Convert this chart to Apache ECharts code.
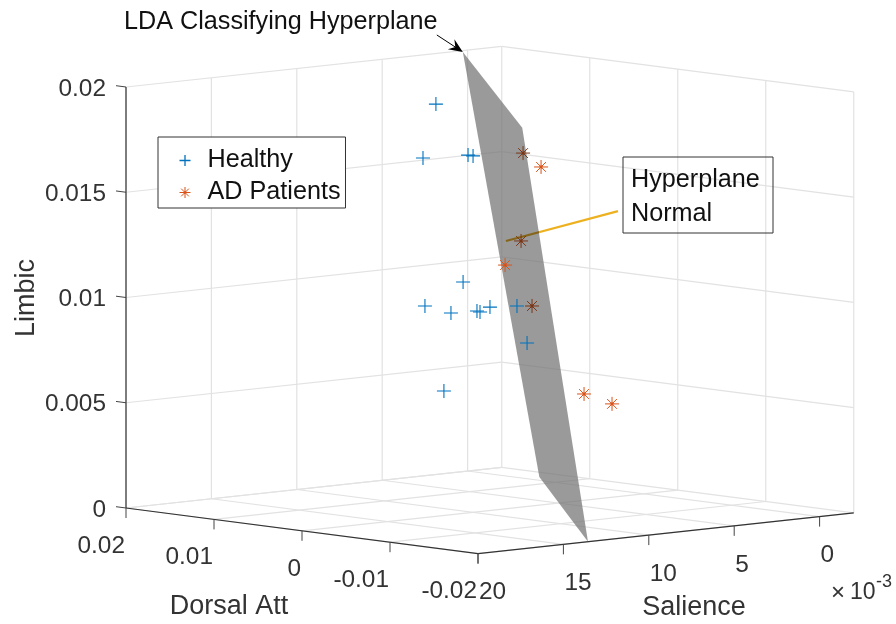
<!DOCTYPE html>
<html>
<head>
<meta charset="utf-8">
<style>html,body{margin:0;padding:0;background:#fff}#c{width:896px;height:624px}</style>
<script src="https://cdn.jsdelivr.net/npm/echarts@6/dist/echarts.min.js"></script>
</head>
<body>
<div id="c"></div>
<script>
// Data values: salience in units of 1e-3
var healthySalience = [14.22,10.34,14.40,9.47,11.60,8.68,14.37,8.21,14.73,9.51,9.99,11.46,9.63];
var healthyDorsal   = [-0.004,0.005,-0.008,0.001,-0.002,0.008,-0.006,0.003,-0.010,-0.001,-0.005,-0.009,0.004];
var healthyLimbic   = [0.01998,0.01659,0.01779,0.01683,0.01119,0.00925,0.01018,0.00924,0.01047,0.00976,0.01007,0.00866,0.00551];

// AD patients seen through the hyperplane
var adBehindSalience = [13.24,8.72,12.20];
var adBehindDorsal   = [-0.012,-0.003,-0.011];
var adBehindLimbic   = [0.01800,0.01294,0.01059];

// AD patients seen directly
var adFrontSalience = [9.61,7.08,10.70,4.94];
var adFrontDorsal   = [-0.007,0.002,-0.014,-0.006];
var adFrontLimbic   = [0.01675,0.01138,0.00644,0.00503];

var planeSalience = [0.64,17.41,13.56,-0.80];
var planeDorsal   = [0.0193,-0.02,-0.02,0.0134];
var planeLimbic   = [0.02,0.02,0,0];

var normalSalience = [8.06,4.59];
var normalDorsal   = [0,-0.006];
var normalLimbic   = [0.01272,0.01416];

var salienceTicks = [20,15,10,5,0];
var dorsalTicks   = [0.02,0.01,0,-0.01,-0.02];
var limbicTicks   = [0,0.005,0.01,0.015,0.02];
var salienceLabels = ['20','15','10','5','0'];
var dorsalLabels   = ['0.02','0.01','0','-0.01','-0.02'];
var limbicLabels   = ['0','0.005','0.01','0.015','0.02'];
var SAL_MIN = -2, SAL_MAX = 20, DOR_MAX = 0.02, DOR_MIN = -0.02;

// Orthographic view of the 3-D box, expressed in the hidden 2-D axes
var view = {ox:126, oy:508, sx:17.08, sy:-1.85, dx:88, dy:11.4, z:21050};
function project(s,d,z){
  var a = SAL_MAX - s, b = (DOR_MAX - d)/0.01;
  return [view.ox + a*view.sx + b*view.dx, view.oy + a*view.sy + b*view.dy - z*view.z];
}
function pts(S,D,Z){ return S.map(function(s,i){ return project(s,D[i],Z[i]); }); }

var grid = [], axes = [], ticks = [];
function seg(list,a,b,ox,oy){ list.push([a[0],a[1],b[0]+(ox||0),b[1]+(oy||0)]); }
salienceTicks.forEach(function(s){
  seg(grid,project(s,DOR_MAX,0),project(s,DOR_MIN,0));
  seg(grid,project(s,DOR_MAX,0),project(s,DOR_MAX,0.02));
  var p = project(s,DOR_MIN,0); seg(ticks,p,p,0,10);
});
dorsalTicks.forEach(function(d){
  seg(grid,project(SAL_MIN,d,0),project(SAL_MAX,d,0));
  seg(grid,project(SAL_MIN,d,0),project(SAL_MIN,d,0.02));
  var p = project(SAL_MAX,d,0); seg(ticks,p,p,0,10);
});
limbicTicks.forEach(function(z){
  seg(grid,project(SAL_MAX,DOR_MAX,z),project(SAL_MIN,DOR_MAX,z));
  seg(grid,project(SAL_MIN,DOR_MAX,z),project(SAL_MIN,DOR_MIN,z));
  var p = project(SAL_MAX,DOR_MAX,z); seg(ticks,p,p,-10,-1.3);
});
seg(axes,project(SAL_MAX,DOR_MAX,0),project(SAL_MAX,DOR_MAX,0.02));
seg(axes,project(SAL_MAX,DOR_MAX,0),project(SAL_MAX,DOR_MIN,0));
seg(axes,project(SAL_MAX,DOR_MIN,0),project(SAL_MIN,DOR_MIN,0));

var tickTexts = [];
var INK = '#333333', TICK_FONT = '24.4px "Liberation Sans", Arial, sans-serif';
limbicTicks.forEach(function(z,i){
  var p = project(SAL_MAX,DOR_MAX,z);
  tickTexts.push({p:p,t:limbicLabels[i],dx:-20,dy:2,align:'right'});
});
dorsalTicks.forEach(function(d,i){
  var p = project(SAL_MAX,d,0);
  tickTexts.push({p:p,t:dorsalLabels[i],dx:-1,dy:38,align:'right'});
});
salienceTicks.forEach(function(s,i){
  var p = project(s,DOR_MIN,0);
  tickTexts.push({p:p,t:salienceLabels[i],dx:1,dy:39,align:'left'});
});

function segSeries(name,list,color,width,z){
  return {name:name,type:'custom',silent:true,z:z,coordinateSystem:'cartesian2d',
    data:list,encode:{x:[0,2],y:[1,3]},
    renderItem:function(params,api){
      var a=api.coord([api.value(0),api.value(1)]),b=api.coord([api.value(2),api.value(3)]);
      return {type:'line',shape:{x1:a[0],y1:a[1],x2:b[0],y2:b[1]},style:{stroke:color,lineWidth:width,fill:null}};
    }};
}
var PLUS = 'path://M0,-1L0,1M-1,0L1,0';
var STAR = 'path://M-1,0L1,0M0,-1L0,1M-0.7,-0.7L0.7,0.7M-0.7,0.7L0.7,-0.7M-0.2,0L0,-0.2L0.2,0L0,0.2Z';
var BLUE = '#0072BD', RED = '#D95319', RED_DIM = '#7A3516';

var planePts = pts(planeSalience,planeDorsal,planeLimbic);
var normalPts = pts(normalSalience,normalDorsal,normalLimbic);
var arrowTip = planePts[0];

var chart = echarts.init(document.getElementById('c'),null,{renderer:'canvas'});
chart.setOption({
  animation:false,
  backgroundColor:'#fff',
  grid:{left:0,right:0,top:0,bottom:0,containLabel:false},
  xAxis:{type:'value',min:0,max:896,show:false},
  yAxis:{type:'value',min:0,max:624,inverse:true,show:false},
  legend:{
    left:158,top:137,orient:'vertical',
    backgroundColor:'#fff',borderColor:'#333',borderWidth:1,
    padding:[11,5,3,19],itemGap:7,itemWidth:11,itemHeight:11,
    selectedMode:false,
    textStyle:{fontFamily:'Liberation Sans',fontSize:25.2,color:'#111',padding:[0,0,0,12]},
    data:[
      {name:'Healthy',icon:PLUS,itemStyle:{color:'none',borderColor:BLUE,borderWidth:1.3}},
      {name:'AD Patients',icon:STAR,itemStyle:{color:RED,borderColor:RED,borderWidth:1}}
    ]
  },
  series:[
    segSeries('grid',grid,'#e2e2e2',1.2,1),
    segSeries('axes',axes,'#333333',1.2,2),
    segSeries('ticks',ticks,'#444444',1,2),
    {name:'tickLabels',type:'custom',silent:true,z:2,data:tickTexts.map(function(o){return o.p;}),
      renderItem:function(params,api){
        var o=tickTexts[params.dataIndex],c=api.coord([api.value(0),api.value(1)]);
        return {type:'text',x:c[0]+o.dx,y:c[1]+o.dy,style:{text:o.t,align:o.align,verticalAlign:'middle',font:TICK_FONT,fill:INK}};
      }},
    {name:'LDA Classifying Hyperplane',type:'custom',silent:true,z:3,data:planePts,
      renderItem:function(params,api){
        if(params.dataIndex!==0) return null;
        return {type:'polygon',shape:{points:planePts.map(function(p){return api.coord(p);})},
          style:{fill:'rgba(115,115,115,0.72)',stroke:null}};
      }},
    {name:'Hyperplane Normal',type:'line',z:4,symbol:'none',data:normalPts,
      lineStyle:{width:2.2,color:{type:'linear',x:0,y:0,x2:1,y2:0,colorStops:[
        {offset:0,color:'#85651a'},{offset:0.3,color:'#85651a'},{offset:0.3,color:'#EDB120'},{offset:1,color:'#EDB120'}]}}},
    {name:'AD Patients',type:'scatter',z:5,symbol:STAR,symbolSize:14,data:pts(adBehindSalience,adBehindDorsal,adBehindLimbic),
      itemStyle:{color:RED_DIM,borderColor:RED_DIM,borderWidth:1,opacity:1}},
    {name:'AD Patients',type:'scatter',z:5,symbol:STAR,symbolSize:14,data:pts(adFrontSalience,adFrontDorsal,adFrontLimbic),
      itemStyle:{color:RED,borderColor:RED,borderWidth:1,opacity:1}},
    {name:'Healthy',type:'scatter',z:5,symbol:PLUS,symbolSize:14,data:pts(healthySalience,healthyDorsal,healthyLimbic),
      itemStyle:{color:'none',borderColor:BLUE,borderWidth:1.1,opacity:1}},
    {name:'arrow',type:'custom',silent:true,z:6,data:[arrowTip],
      renderItem:function(params,api){
        var t=api.coord(arrowTip),sx=t[0]-26,sy=t[1]-17;
        var L=Math.sqrt(26*26+17*17),ux=26/L,uy=17/L,nx=-uy,ny=ux;
        return {type:'group',children:[
          {type:'line',shape:{x1:sx,y1:sy,x2:t[0]-ux*6,y2:t[1]-uy*6},style:{stroke:'#000',lineWidth:1}},
          {type:'polygon',shape:{points:[[t[0],t[1]],[t[0]-ux*14+nx*6,t[1]-uy*14+ny*6],[t[0]-ux*9,t[1]-uy*9],[t[0]-ux*14-nx*6,t[1]-uy*14-ny*6]]},style:{fill:'#000'}}
        ]};
      }}
  ],
  graphic:[
    {type:'text',z:10,x:124,y:22,style:{text:'LDA Classifying Hyperplane',verticalAlign:'middle',font:'25.2px "Liberation Sans"',fill:'#111'}},
    {type:'rect',z:10,shape:{x:623,y:157,width:150,height:76},style:{fill:null,stroke:'#333',lineWidth:1}},
    {type:'text',z:10,x:631,y:180,style:{text:'Hyperplane',verticalAlign:'middle',font:'25.2px "Liberation Sans"',fill:'#111'}},
    {type:'text',z:10,x:631,y:214,style:{text:'Normal',verticalAlign:'middle',font:'25.2px "Liberation Sans"',fill:'#111'}},
    {type:'text',z:10,x:229,y:607,style:{text:'Dorsal Att',align:'center',verticalAlign:'middle',font:'27px "Liberation Sans"',fill:INK}},
    {type:'text',z:10,x:694,y:608,style:{text:'Salience',align:'center',verticalAlign:'middle',font:'27px "Liberation Sans"',fill:INK}},
    {type:'text',z:10,x:27,y:298,rotation:Math.PI/2,style:{text:'Limbic',align:'center',verticalAlign:'middle',font:'27px "Liberation Sans"',fill:INK}},
    {type:'text',z:10,x:831,y:593,style:{text:'\u00d7',verticalAlign:'middle',font:'24px "Liberation Sans"',fill:INK}},
    {type:'text',z:10,x:850,y:593,style:{text:'10',verticalAlign:'middle',font:'23px "Liberation Sans"',fill:INK}},
    {type:'text',z:10,x:876,y:582,style:{text:'-3',verticalAlign:'middle',font:'18px "Liberation Sans"',fill:INK}}
  ]
});
</script>
</body>
</html>
